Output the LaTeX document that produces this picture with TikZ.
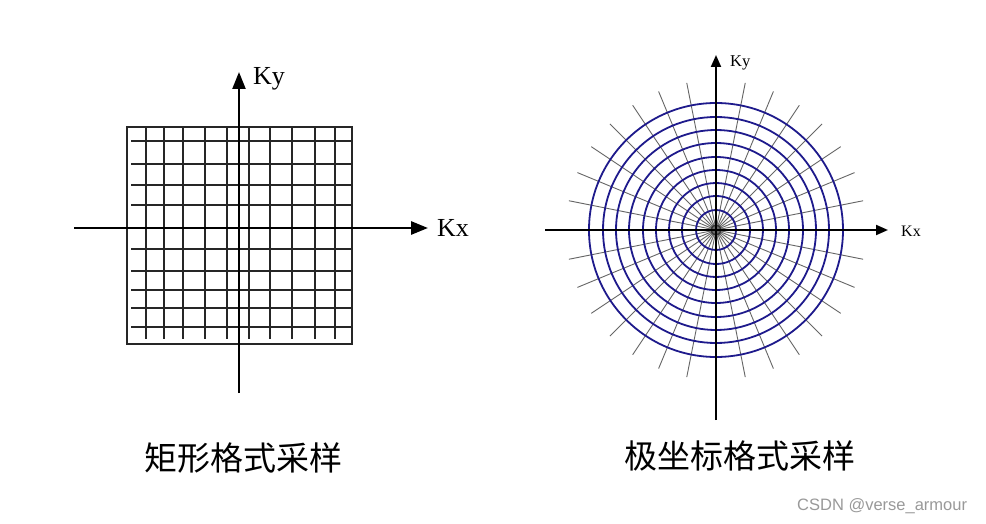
\documentclass[tikz,border=0pt]{standalone}
\usepackage{fontspec}
\setmainfont{Liberation Serif}
\newfontfamily\cjk{Noto Sans CJK SC}
\newfontfamily\wmfont{Liberation Sans}
\usetikzlibrary{arrows.meta}
\definecolor{ringblue}{HTML}{1E1A8C}
\begin{document}
\begin{tikzpicture}[x=1pt,y=-1pt,
  gridline/.style={line width=1.4pt, draw=black!85},
  axisL/.style={line width=2.3pt, -{Triangle[length=17pt,width=13pt]}},
  axisR/.style={line width=2pt, -{Triangle[length=12pt,width=10pt]}},
  ring/.style={draw=ringblue, line width=1.8pt},
  spoke/.style={draw=black!60, line width=0.9pt},
  axlabel/.style={inner sep=0pt, anchor=west},
  caption/.style={inner sep=0pt, font=\cjk\fontsize{33}{36}\selectfont}
]
\useasboundingbox (0,0) rectangle (986,524);
\fill[white] (0,0) rectangle (986,524);

% ---------- left: rectangular grid ----------
\draw[gridline] (127,127) rectangle (352,344);
\foreach \x in {146,164,183,205,227,249,270,292,315,335}
  \draw[gridline] (\x,127) -- (\x,339);
\foreach \y in {141,164,185,205,249,271,290,308,327}
  \draw[gridline] (131,\y) -- (352,\y);

\coordinate (LxS) at (74,228);
\coordinate (LxE) at (428,228);
\coordinate (LyS) at (239,393);
\coordinate (LyE) at (239,72);
\draw[axisL, line width=2.8pt] (LxS) -- (LxE);
\draw[axisL] (LyS) -- (LyE);
\node[axlabel, font=\fontsize{26}{28}\selectfont] (LKx) at (437,228) {Kx};
\node[axlabel, font=\fontsize{26}{28}\selectfont] (LKy) at (253,79) {Ky};

% ---------- right: polar grid ----------
\coordinate (C) at (716,230);
\foreach \a in {0,11.25,...,349}
  \draw[spoke] (C) -- ++(\a:150);
\foreach \r in {20,34,47,60,73,87,100,113,127}
  \draw[ring] (C) circle[radius=\r];
\draw[line width=1.5pt, draw=black!80] (C) circle[radius=5];

\coordinate (RxS) at (545,230);
\coordinate (RxE) at (888,230);
\coordinate (RyS) at (716,420);
\coordinate (RyE) at (716,55);
\draw[axisR] (RxS) -- (RxE);
\draw[axisR] (RyS) -- (RyE);
\node[axlabel, font=\fontsize{16}{18}\selectfont] (RKx) at (901,231) {Kx};
\node[axlabel, font=\fontsize{16.5}{18}\selectfont] (RKy) at (730,63) {Ky};

% ---------- captions ----------
\node[caption] (capL) at (243,458) {矩形格式采样};
\node[caption] (capR) at (740,456) {极坐标格式采样};

% ---------- watermark ----------
\node[inner sep=0pt, anchor=west, text=black!40, font=\wmfont\fontsize{16.5}{18}\selectfont] (wm) at (797,506) {CSDN @verse\_armour};
\end{tikzpicture}
\end{document}
